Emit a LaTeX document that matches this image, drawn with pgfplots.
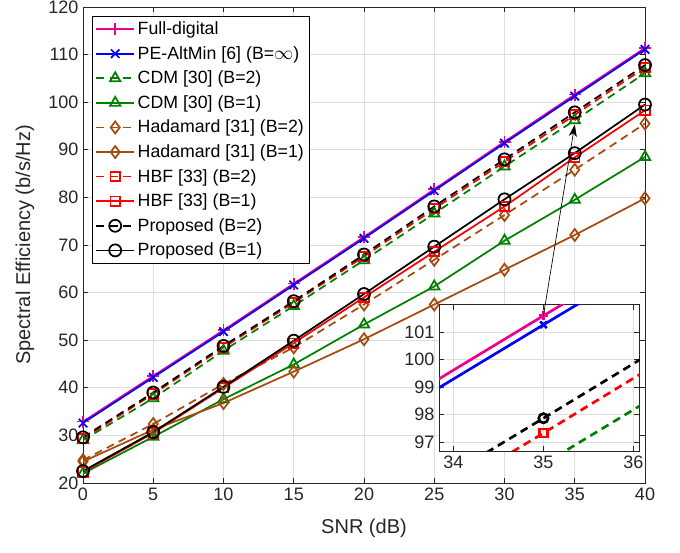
\documentclass[border=0pt]{standalone}
\usepackage{fontspec}
\setmainfont{Liberation Sans}
\usepackage{pgfplots}
\usepackage{pgfplotstable}
\pgfplotsset{compat=1.18}
\usetikzlibrary{arrows.meta}

\definecolor{mgreen}{rgb}{0,0.5,0}
\definecolor{hbrown}{rgb}{0.65,0.29,0.05}
\definecolor{axgray}{rgb}{0.15,0.15,0.15}
\definecolor{gridgray}{rgb}{0.87,0.87,0.87}

% SNR vs spectral efficiency, one column per scheme
\pgfplotstableread{
snr full  pe     cdmb cdma had2 had1 hbfb  hbfa prob  proa
0   32.9  32.6   29.0 22.0 24.8 24.5 29.3  22.3 29.6  22.5
5   42.5  42.2   37.8 29.7 32.4 31.2 38.7  30.5 39.0  30.7
10  52.1  51.8   47.8 37.6 40.8 36.8 48.5  40.0 48.8  40.2
15  61.9  61.6   57.2 44.9 48.5 43.4 57.9  49.4 58.2  49.9
20  71.7  71.4   66.8 53.3 57.5 50.2 67.6  59.0 68.0  59.7
25  81.7  81.4   76.6 61.3 66.9 57.5 77.6  68.6 78.1  69.65
30  91.7  91.4   86.5 70.9 76.3 64.8 87.5  78.1 88.0  79.6
35  101.6 101.27 96.2 79.5 85.8 72.1 97.33 88.4 97.87 89.3
40  111.4 111.1  106.1 88.5 95.5 79.8 107.3 98.3 107.8 99.5
}\sedata

\pgfplotsset{
  mstyle/.style={axis line style={axgray,line width=0.5pt},
    tick style={axgray,line width=0.5pt},
    major tick length=4pt,
    grid=major, grid style={gridgray,line width=0.5pt},
    tick label style={font=\fontsize{13.5}{15}\selectfont,text=axgray},
    /pgf/number format/assume math mode=true},
  mdash/.style={dash pattern=on 6pt off 4pt},
}

\begin{document}
\begin{tikzpicture}
\path[use as bounding box] (-62.25pt,-51.75pt) rectangle (447.75pt,362.25pt);
\begin{axis}[
  mstyle,
  at={(0pt,0pt)}, anchor=south west,
  scale only axis, width=421.5pt, height=357pt,
  xmin=0, xmax=40, ymin=20, ymax=120,
  xtick={0,5,...,40}, ytick={20,30,...,120},
  xlabel={SNR (dB)}, ylabel={Spectral Efficiency (b/s/Hz)},
  label style={font=\fontsize{15}{17}\selectfont,text=axgray},
  xlabel style={at={(axis description cs:0.5,-0.0945)},anchor=center},
  ylabel style={at={(axis description cs:-0.1032,0.5)},anchor=center},
  every axis plot/.append style={line width=1.3pt, mark size=4.5pt},
  legend style={at={(axis description cs:0.0167,0.981)}, anchor=north west,
    font=\fontsize{13.3}{15}\selectfont, draw=black, line width=0.5pt,
    cells={anchor=west}, row sep=3.3pt, inner sep=2pt},
  legend image code/.code={\draw[mark repeat=2,mark phase=2,#1]
    plot coordinates {(0cm,0cm) (0.5cm,0cm) (1cm,0cm)};},
]
\addplot[magenta, mark=+] table[x=snr,y=full] {\sedata};
\addlegendentry{Full-digital}
\addplot[blue, mark=x] table[x=snr,y=pe] {\sedata};
\addlegendentry{PE-AltMin [6] (B=$\infty$)}
\addplot[mgreen, mdash, mark=triangle, mark options={solid}] table[x=snr,y=cdmb] {\sedata};
\addlegendentry{CDM [30] (B=2)}
\addplot[mgreen, mark=triangle] table[x=snr,y=cdma] {\sedata};
\addlegendentry{CDM [30] (B=1)}
\addplot[hbrown, mdash, mark=diamond, mark options={solid}] table[x=snr,y=had2] {\sedata};
\addlegendentry{Hadamard [31] (B=2)}
\addplot[hbrown, mark=diamond] table[x=snr,y=had1] {\sedata};
\addlegendentry{Hadamard [31] (B=1)}
\addplot[red, mdash, mark=square, mark size=3.5pt, mark options={solid}] table[x=snr,y=hbfb] {\sedata};
\addlegendentry{HBF [33] (B=2)}
\addplot[red, mark=square, mark size=3.5pt] table[x=snr,y=hbfa] {\sedata};
\addlegendentry{HBF [33] (B=1)}
\addplot[black, mdash, mark=o, mark options={solid}] table[x=snr,y=prob] {\sedata};
\addlegendentry{Proposed (B=2)}
\addplot[black, mark=o] table[x=snr,y=proa] {\sedata};
\addlegendentry{Proposed (B=1)}
\coordinate (a1) at (axis cs:35,95.3);
\end{axis}

\begin{axis}[
  mstyle,
  at={(267pt,24pt)}, anchor=south west,
  scale only axis, width=150.5pt, height=109.7pt,
  xmin=33.84, xmax=36.07, ymin=96.68, ymax=102,
  xtick={34,35,36}, ytick={97,98,...,101},
  axis background/.style={fill=white},
  every axis plot/.append style={line width=2pt, mark size=3.5pt},
]
\addplot[magenta, mark=+] table[x=snr,y=full] {\sedata};
\addplot[blue, mark=x] table[x=snr,y=pe] {\sedata};
\addplot[mgreen, mdash, mark=triangle, mark options={solid}] table[x=snr,y=cdmb] {\sedata};
\addplot[red, mdash, mark=square, mark size=3pt, mark options={solid}] table[x=snr,y=hbfb] {\sedata};
\addplot[black, mdash, mark=o, mark options={solid}] table[x=snr,y=prob] {\sedata};
\coordinate (a0) at (axis cs:35,101.6);
\end{axis}

\draw[line width=0.5pt, -{Stealth[length=9pt,width=6pt,inset=2.5pt]}] (a0) -- (a1);
\end{tikzpicture}
\end{document}
